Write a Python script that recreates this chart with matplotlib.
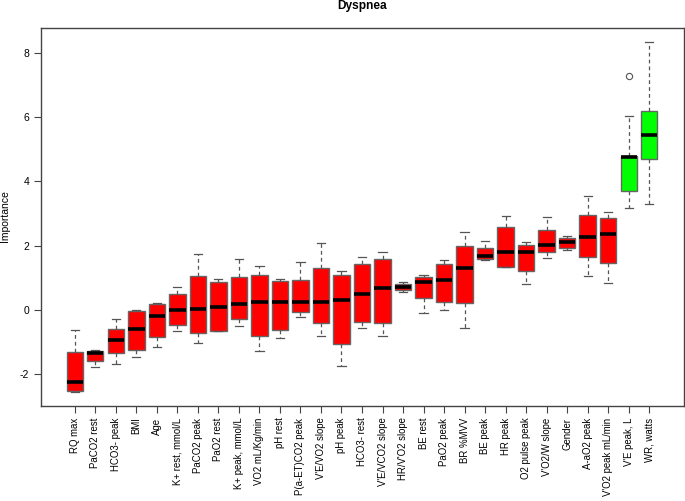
import matplotlib
matplotlib.use("Agg")
import matplotlib.pyplot as plt
import numpy as np

plt.rcParams['font.family'] = ['Liberation Sans', 'DejaVu Sans']

labels = ["RQ max", "PaCO2 rest", "HCO3- peak", "BMI", "Age", "K+ rest, mmol/L",
          "PaCO2 peak", "PaO2 rest", "K+ peak, mmol/L", "VO2 mL/Kg/min", "pH rest",
          "P(a-ET)CO2 peak", "V'E/VO2 slope", "pH peak", "HCO3- rest", "V'E/VCO2 slope",
          "HR/V'O2 slope", "BE rest", "PaO2 peak", "BR %MVV", "BE peak", "HR peak",
          "O2 pulse peak", "V'O2/W slope", "Gender", "A-aO2 peak", "V'O2 peak mL/min",
          "V'E peak, L", "WR, watts"]

whis_hi = [-0.63, -1.26, -0.28, 0.01, 0.22, 0.70, 1.73, 0.97, 1.59, 1.38, 0.97, 1.50, 2.09, 1.20,
           1.64, 1.79, 0.88, 1.08, 1.54, 2.42, 2.14, 2.92, 2.12, 2.90, 2.31, 3.54, 3.06, 6.04, 8.33]
q3 = [-1.30, -1.27, -0.58, -0.04, 0.18, 0.50, 1.06, 0.88, 1.01, 1.08, 0.90, 0.92, 1.31, 1.08,
      1.42, 1.59, 0.80, 1.02, 1.42, 1.99, 1.93, 2.57, 2.03, 2.48, 2.25, 2.94, 2.86, 4.78, 6.18]
med = [-2.23, -1.33, -0.93, -0.58, -0.18, 0.00, 0.02, 0.10, 0.17, 0.24, 0.24, 0.24, 0.24, 0.31,
       0.48, 0.67, 0.71, 0.88, 0.93, 1.29, 1.68, 1.79, 1.81, 2.03, 2.10, 2.28, 2.36, 4.75, 5.45]
q1 = [-2.52, -1.59, -1.34, -1.25, -0.83, -0.47, -0.71, -0.65, -0.29, -0.81, -0.63, -0.06, -0.40, -1.06,
      -0.39, -0.41, 0.61, 0.38, 0.26, 0.22, 1.58, 1.34, 1.22, 1.81, 1.93, 1.64, 1.46, 3.69, 4.68]
whis_lo = [-2.55, -1.77, -1.69, -1.46, -1.14, -0.65, -1.04, -0.67, -0.49, -1.28, -0.87, -0.23, -0.80, -1.75,
           -0.55, -0.81, 0.55, -0.09, 0.00, -0.57, 1.54, 1.32, 0.80, 1.61, 1.85, 1.07, 0.85, 3.16, 3.29]
outliers = {27: [7.27]}
decision = ["Rejected"] * 27 + ["Confirmed"] * 2
colors = {"Rejected": "#FF0000", "Confirmed": "#00FF00"}

stats = []
for i in range(len(labels)):
    stats.append(dict(label=labels[i], whislo=whis_lo[i], q1=q1[i], med=med[i],
                      q3=q3[i], whishi=whis_hi[i], fliers=outliers.get(i, [])))

fig = plt.figure(figsize=(6.85, 5.01), dpi=100)
ax = fig.add_axes([40.5/685, 1-405.7/501, (683.5-40.5)/685, (405.7-28.3)/501])

positions = np.arange(1, len(labels) + 1)
bp = ax.bxp(stats, positions=positions, widths=0.8, patch_artist=True,
            boxprops=dict(edgecolor='#666666', linewidth=1.0),
            medianprops=dict(color='black', linewidth=2.6, solid_capstyle='butt'),
            whiskerprops=dict(color='#555555', linestyle=(0, (3, 2.5)), linewidth=0.9),
            capprops=dict(color='#555555', linewidth=0.9),
            flierprops=dict(marker='o', markersize=4.5, markerfacecolor='none',
                            markeredgecolor='#555555', markeredgewidth=0.8),
            capwidths=0.4)
for patch, d in zip(bp['boxes'], decision):
    patch.set_facecolor(colors[d])

n = len(labels)
ax.set_xlim(0.5 - 0.04 * n - 0.01, n + 0.5 + 0.04 * n + 0.01)
ax.set_ylim(-2.98, 8.76)
ax.set_yticks([-2, 0, 2, 4, 6, 8])
ax.set_yticklabels(['-2', '0', '2', '4', '6', '8'])
ax.set_xticks(positions)
ax.set_xticklabels(labels, rotation=90, fontsize=6.9, va='top', ha='center')
ax.tick_params(axis='y', labelsize=7.5, length=5, width=0.8, color='#444444', pad=3, labelrotation=0)
ax.tick_params(axis='x', length=5, width=0.8, color='#444444', pad=3.5)
for s in ax.spines.values():
    s.set_color('#444444')
    s.set_linewidth(1.0)

fig.text(362/685, 1 - 6/501, "Dyspnea", ha='center', va='center', fontsize=8.6, fontweight='bold')
fig.text(5/685, 1 - 216/501, "Importance", ha='center', va='center', rotation=90, fontsize=7.5)

fig.savefig("out.png", dpi=100)
